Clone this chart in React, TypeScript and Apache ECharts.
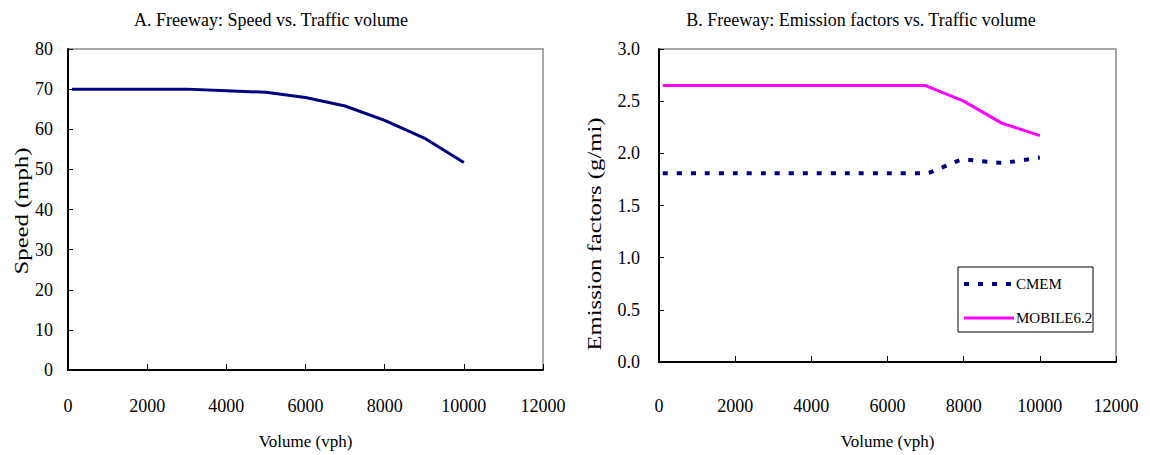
import React, { useEffect, useRef } from "react";
import * as echarts from "echarts";

// Traffic volume (vph) at which each value was computed
const volumes = [100, 1000, 2000, 3000, 4000, 5000, 6000, 7000, 8000, 9000, 10000];
// Panel A: freeway speed (mph)
const speedMph = [70, 70, 70, 70, 69.6, 69.2, 67.9, 65.8, 62.2, 57.8, 51.7];
// Panel B: emission factors (g/mi)
const cmemGpm = [1.81, 1.81, 1.81, 1.81, 1.81, 1.81, 1.81, 1.81, 1.94, 1.91, 1.96];
const mobileGpm = [2.65, 2.65, 2.65, 2.65, 2.65, 2.65, 2.65, 2.65, 2.5, 2.29, 2.17];

const seriesNames = ["CMEM", "MOBILE6.2"];
const titles = [
  "A. Freeway: Speed vs. Traffic volume",
  "B. Freeway: Emission factors vs. Traffic volume",
];
const xName = "Volume (vph)";
const yNames = ["Speed (mph)", "Emission factors (g/mi)"];

const FONT = "'Liberation Serif', 'Times New Roman', serif";
const NAVY = "#000080";
const MAGENTA = "#FF00FF";

const pairs = (ys: number[]) => volumes.map((v, i) => [v, ys[i]]);

export default function App() {
  const ref = useRef<HTMLDivElement>(null);

  useEffect(() => {
    if (!ref.current) return;
    const chart = echarts.init(ref.current, null, { renderer: "svg" });

    const xAxisBase = (gridIndex: number, margin: number, nameGap: number) => ({
      type: "value" as const,
      gridIndex,
      min: 0,
      max: 12000,
      interval: 2000,
      name: xName,
      nameLocation: "middle" as const,
      nameGap,
      nameTextStyle: { fontFamily: FONT, fontSize: 17, color: "#000" },
      axisLine: { show: true, onZero: false, lineStyle: { color: "#000", width: 2 } },
      axisTick: { show: true, inside: true, length: 6, lineStyle: { color: "#000", width: 1 } },
      axisLabel: {
        margin,
        fontFamily: FONT,
        fontSize: 18,
        color: "#000",
        formatter: (v: number) => String(v),
      },
      splitLine: { show: false },
    });

    const yAxisBase = (gridIndex: number, max: number, interval: number, margin: number, digits: number) => ({
      type: "value" as const,
      gridIndex,
      min: 0,
      max,
      interval,
      axisLine: { show: true, lineStyle: { color: "#000", width: 2 } },
      axisTick: { show: true, inside: true, length: 5, lineStyle: { color: "#000", width: 1 } },
      axisLabel: {
        margin,
        fontFamily: FONT,
        fontSize: 18,
        color: "#000",
        formatter: (v: number) => v.toFixed(digits),
      },
      splitLine: { show: false },
    });

    const titleStyle = { fontFamily: FONT, fontSize: 18, fontWeight: "normal" as const, color: "#000" };
    const nameText = (text: string, x: number, y: number) => ({
      type: "text" as const,
      x,
      y,
      rotation: Math.PI / 2,
      scaleX: 1.3,
      style: {
        text,
        font: `19px ${FONT}`,
        fill: "#000",
        align: "center",
        verticalAlign: "middle",
      },
    });

    // Hand-built legend box for panel B
    const lx = 958;
    const ly = 267;
    const legend = {
      type: "group" as const,
      x: lx,
      y: ly,
      children: [
        { type: "rect", shape: { x: 0, y: 0, width: 135, height: 65 }, style: { fill: "#fff", stroke: "#000", lineWidth: 1 } },
        {
          type: "line",
          shape: { x1: 6, y1: 17, x2: 54, y2: 17 },
          style: { stroke: NAVY, lineWidth: 4, lineDash: [5, 9], lineCap: "butt" },
        },
        { type: "text", x: 58, y: 17, style: { text: seriesNames[0], font: `15px ${FONT}`, fill: "#000", verticalAlign: "middle" } },
        {
          type: "line",
          shape: { x1: 6, y1: 51, x2: 56, y2: 51 },
          style: { stroke: MAGENTA, lineWidth: 3 },
        },
        { type: "text", x: 58, y: 51, style: { text: seriesNames[1], font: `15px ${FONT}`, fill: "#000", verticalAlign: "middle" } },
      ],
    };

    chart.setOption({
      animation: false,
      backgroundColor: "#fff",
      textStyle: { fontFamily: FONT },
      title: [
        { text: titles[0], left: 266, top: 6, textAlign: "center", textStyle: titleStyle },
        { text: titles[1], left: 856, top: 6, textAlign: "center", textStyle: titleStyle },
      ],
      grid: [
        { left: 68, top: 49, width: 475, height: 322, show: true, borderColor: "#a8a8a8", borderWidth: 2, backgroundColor: "#fff" },
        { left: 659, top: 49, width: 457, height: 314, show: true, borderColor: "#a8a8a8", borderWidth: 2, backgroundColor: "#fff" },
      ],
      xAxis: [xAxisBase(0, 27, 63), xAxisBase(1, 35, 71)],
      yAxis: [yAxisBase(0, 80, 10, 15, 0), yAxisBase(1, 3, 0.5, 19, 1)],
      graphic: [nameText(yNames[0], 22, 211), nameText(yNames[1], 595, 234), legend],
      series: [
        {
          name: "Speed",
          type: "line",
          xAxisIndex: 0,
          yAxisIndex: 0,
          data: pairs(speedMph),
          symbol: "none",
          lineStyle: { color: NAVY, width: 3 },
          itemStyle: { color: NAVY },
        },
        {
          name: seriesNames[0],
          type: "line",
          xAxisIndex: 1,
          yAxisIndex: 1,
          data: pairs(cmemGpm),
          symbol: "none",
          smooth: 0.2,
          lineStyle: { color: NAVY, width: 4, type: [5, 9], cap: "butt" },
          itemStyle: { color: NAVY },
        },
        {
          name: seriesNames[1],
          type: "line",
          xAxisIndex: 1,
          yAxisIndex: 1,
          data: pairs(mobileGpm),
          symbol: "none",
          lineStyle: { color: MAGENTA, width: 3 },
          itemStyle: { color: MAGENTA },
        },
      ],
    });

    return () => chart.dispose();
  }, []);

  return (
    <div
      ref={ref}
      style={{ position: "fixed", left: 0, top: 0, width: 1150, height: 455, background: "#fff" }}
    />
  );
}
